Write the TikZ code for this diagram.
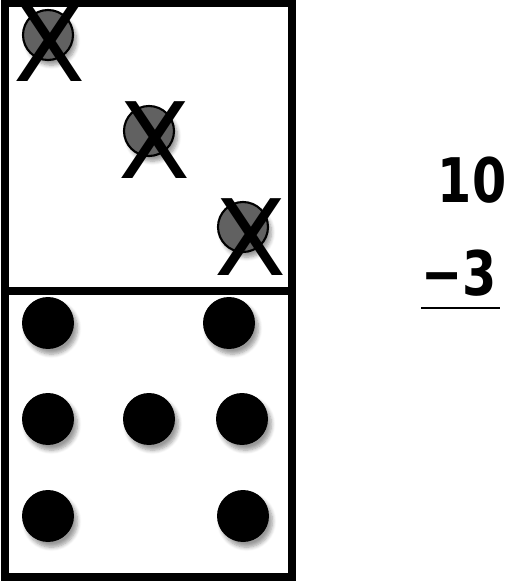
\documentclass[tikz,border=0pt]{standalone}
\usepackage{fontspec}
\setmainfont{DejaVu Sans}
\usetikzlibrary{shadows.blur}

\begin{document}
\begin{tikzpicture}[x=0.02cm, y=-0.02cm,
      frame/.style={draw, line width=4pt},
      spot/.style={circle, fill=black, inner sep=0pt, minimum size=1.04cm,
                   blur shadow={shadow xshift=2pt, shadow yshift=-3pt, shadow blur steps=6}},
      gone/.style={circle, draw, line width=1.2pt, fill=black!62, inner sep=0pt,
                   minimum size=1.0cm,
                   blur shadow={shadow xshift=2pt, shadow yshift=-3pt, shadow blur steps=6}},
      cross/.style={anchor=base, inner sep=0pt, font=\fontsize{60}{60}\selectfont},
      num/.style={anchor=base, inner sep=0pt, font=\fontsize{35}{35}\selectfont\bfseries}
    ]
    \useasboundingbox (0,0) rectangle (508,581);

    % Domino
    \draw[frame] (5,3.5) rectangle (292,291);
    \draw[frame] (5,291) rectangle (292,577);

    % weggenommene Punkte
    \node[gone] (g1) at (48,35) {};
    \node[gone] (g2) at (149,131) {};
    \node[gone] (g3) at (243,227) {};
    \node[cross] (x1) at (50,82) {X};
    \node[cross] (x2) at (155,178) {X};
    \node[cross] (x3) at (251,275) {X};

    % verbleibende Punkte
    \node[spot] (p1) at (48,323) {};
    \node[spot] (p2) at (229,323) {};
    \node[spot] (p3) at (48,419) {};
    \node[spot] (p4) at (149,419) {};
    \node[spot] (p5) at (242,419) {};
    \node[spot] (p6) at (48,516) {};
    \node[spot] (p7) at (243,516) {};

    % Rechnung
    \node[num, xscale=0.8] (ten) at (472,202) {10};
    \node[num, xscale=0.8] (sub) at (459,295) {−3};
    \draw[line width=1pt] (421,308) -- (500,308);
  \end{tikzpicture}
\end{document}
